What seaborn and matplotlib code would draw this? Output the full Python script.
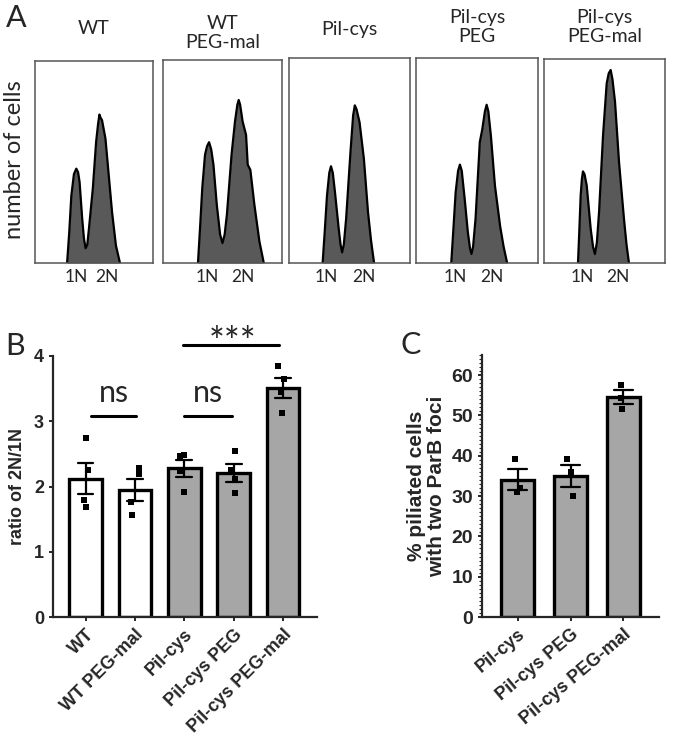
import matplotlib
matplotlib.use('Agg')
from matplotlib import pyplot as plt
from matplotlib.ticker import MultipleLocator
import numpy as np
import pandas as pd
import seaborn as sns

# ---- panel A: DNA content histograms (box-relative units) ----
hist_titles = ['WT', 'WT\nPEG-mal', 'Pil-cys', 'Pil-cys\nPEG', 'Pil-cys\nPEG-mal']
hist_x = [
    [27.2, 29.0, 30.8, 33.0, 35.0, 36.5, 37.8, 40.0, 41.5, 42.9, 44.3, 45.7, 49.0, 51.8, 53.5, 54.6, 55.5, 56.8, 59.7, 62.5, 65.3, 68.6, 72.0],
    [29.4, 31.2, 33.0, 35.3, 37.0, 38.7, 40.5, 42.4, 45.2, 48.0, 50.0, 51.8, 53.7, 57.6, 60.5, 62.5, 63.6, 64.8, 66.9, 69.8, 71.2, 73.4, 76.8, 81.0, 84.7],
    [27.8, 29.6, 31.4, 33.3, 34.7, 36.2, 38.0, 41.1, 42.6, 43.9, 45.3, 47.2, 50.8, 53.0, 54.4, 55.8, 58.3, 61.9, 65.3, 67.8, 70.3],
    [28.9, 30.7, 32.5, 34.5, 36.0, 37.5, 39.9, 42.5, 44.3, 45.5, 46.8, 48.8, 52.3, 54.3, 56.5, 57.9, 59.3, 61.4, 64.7, 68.9, 71.8, 74.7],
    [28.1, 29.2, 30.3, 31.3, 32.2, 33.5, 35.3, 38.6, 40.5, 42.1, 43.7, 45.5, 48.8, 51.8, 53.5, 55.1, 56.6, 58.7, 62.0, 66.1, 68.2, 70.2],
]
hist_y = [
    [0, 15, 33.4, 44, 46.7, 45, 40, 21.9, 12, 7.3, 9, 16.9, 36.8, 60, 69, 73.5, 72, 70.7, 61.6, 43.4, 25.2, 8.6, 0],
    [0, 18, 36.9, 53.3, 57.5, 59.5, 56, 48.4, 28.7, 14, 9.8, 14, 23.8, 53.3, 69.7, 78, 80.3, 78, 69.7, 63.1, 48.4, 45.9, 28.7, 10.7, 0],
    [0, 16, 32.9, 44, 47.2, 44, 34.5, 16.6, 9, 5.2, 9, 21.5, 54.1, 72, 76.9, 75, 68.7, 50.8, 24.8, 11, 0],
    [0, 17, 34.5, 45, 48, 45, 31.3, 15, 7, 4.4, 8, 21.5, 59, 65.1, 74, 77.2, 74, 62, 37.8, 18.2, 8, 0],
    [0, 16, 33.1, 41, 44.9, 43.5, 38, 16.7, 8, 4.4, 10, 24.9, 62.6, 88, 93, 94.6, 90, 79, 49.5, 21.6, 9, 0],
]
ploidy_ticks = [[35, 61], [37, 67], [31, 62], [32, 62], [32, 61]]
ploidy_labels = ['1N', '2N']

# ---- panel B: ratio of 2N/1N ----
ratio_groups = ['WT', 'WT PEG-mal', 'Pil-cys', 'Pil-cys PEG', 'Pil-cys PEG-mal']
ratio_values = [
    [2.74, 2.26, 1.79, 1.69],
    [2.28, 2.19, 1.77, 1.56],
    [2.47, 2.49, 2.23, 1.92],
    [2.55, 2.25, 2.12, 1.90],
    [3.84, 3.64, 3.45, 3.13],
]
ratio_colors = ['white', 'white', '#a6a6a6', '#a6a6a6', '#a6a6a6']

# ---- panel C: % piliated cells with two ParB foci ----
foci_groups = ['Pil-cys', 'Pil-cys PEG', 'Pil-cys PEG-mal']
foci_values = [
    [39.2, 32.0, 30.9],
    [39.2, 35.9, 30.0],
    [57.5, 54.4, 51.7],
]

sns.set_style('ticks')
plt.rcParams['font.family'] = ['Liberation Sans', 'DejaVu Sans']
soft = ['Lato', 'DejaVu Sans']

W, H = 677, 735
fig = plt.figure(figsize=(W / 100, H / 100), dpi=100)


def px_axes(left, top, right, bottom):
    return fig.add_axes([left / W, 1 - bottom / H, (right - left) / W, (bottom - top) / H])


# ---------------- panel A ----------------
box_px = [(35, 61, 153, 263), (163, 60, 282, 263), (289, 58, 410, 263),
          (416, 58, 538, 263), (544, 59, 665, 263)]
title_y = [29, 33, 30, 27, 27]
for i, (l, t, r, b) in enumerate(box_px):
    ax = px_axes(l, t, r, b)
    ax.fill_between(hist_x[i], hist_y[i], color='#595959', lw=0)
    sns.lineplot(x=hist_x[i], y=hist_y[i], color='black', lw=1.6, ax=ax)
    ax.set_xlim(0, 100)
    ax.set_ylim(0, 100)
    ax.set_yticks([])
    ax.set_xticks(ploidy_ticks[i])
    ax.set_xticklabels(ploidy_labels, family=soft, fontsize=12.5)
    ax.tick_params(axis='x', length=0, pad=4)
    for s in ax.spines.values():
        s.set_color('#555555')
        s.set_linewidth(1.1)
    fig.text((l + r) / 2 / W, 1 - title_y[i] / H, hist_titles[i], ha='center', va='center',
             family=soft, fontsize=14, linespacing=1.1)

fig.text(15 / W, 1 - 160 / H, 'number of cells', rotation=90, ha='center', va='center',
         family=soft, fontsize=17)
fig.text(6 / W, 1 - 18 / H, 'A', ha='left', va='center', family=soft, fontsize=22)

# ---------------- panel B ----------------
dfB = pd.DataFrame({
    'group': np.repeat(ratio_groups, [len(v) for v in ratio_values]),
    'ratio': np.concatenate(ratio_values),
})
axB = px_axes(53, 356, 317, 617)
sns.barplot(data=dfB, x='group', y='ratio', hue='group', palette=ratio_colors,
            errorbar='se', capsize=0.32, err_kws={'color': 'black', 'linewidth': 1.6},
            edgecolor='black', linewidth=2.4, width=0.66, legend=False, ax=axB)
np.random.seed(3)
sns.stripplot(data=dfB, x='group', y='ratio', color='black', marker='s', size=4.5,
              jitter=0.1, ax=axB)
axB.set_xlim(-0.66, 4.69)
axB.set_ylim(0, 4)
axB.set_yticks([0, 1, 2, 3, 4])
axB.set_xlabel('')
axB.set_ylabel('ratio of 2N/1N', fontsize=13, fontweight='bold', labelpad=6)
sns.despine(ax=axB)
for s in ['left', 'bottom']:
    axB.spines[s].set_linewidth(1.6)
axB.tick_params(axis='both', width=1.4, length=3)
plt.setp(axB.get_yticklabels(), fontsize=13, fontweight='bold')
plt.setp(axB.get_xticklabels(), fontsize=13, fontweight='bold', rotation=45,
         ha='right', rotation_mode='anchor')

# significance marks
for x0, x1 in [(0.1, 1.03), (2.0, 2.96)]:
    axB.plot([x0, x1], [3.08, 3.08], color='black', lw=2.2, clip_on=False)
    axB.text((x0 + x1) / 2, 3.43, 'ns', ha='center', va='center', family=soft, fontsize=22)
axB.plot([1.98, 3.93], [4.17, 4.17], color='black', lw=2.2, clip_on=False)
axB.text(2.98, 4.18, '***', ha='center', va='center', family=soft, fontsize=27, clip_on=False)
fig.text(5 / W, 1 - 346 / H, 'B', ha='left', va='center', family=soft, fontsize=22)

# ---------------- panel C ----------------
dfC = pd.DataFrame({
    'group': np.repeat(foci_groups, [len(v) for v in foci_values]),
    'pct': np.concatenate(foci_values),
})
axC = px_axes(482, 355, 659, 617)
sns.barplot(data=dfC, x='group', y='pct', color='#a6a6a6',
            errorbar='se', capsize=0.36, err_kws={'color': 'black', 'linewidth': 1.6},
            edgecolor='black', linewidth=2.4, width=0.63, ax=axC)
sns.stripplot(data=dfC, x='group', y='pct', color='black', marker='s', size=4.5,
              jitter=0.1, ax=axC)
axC.set_xlim(-0.67, 2.67)
axC.set_ylim(0, 65)
axC.set_yticks([0, 10, 20, 30, 40, 50, 60])
axC.yaxis.set_minor_locator(MultipleLocator(1))
axC.set_xlabel('')
axC.set_ylabel('% piliated cells\nwith two ParB foci', fontsize=15, fontweight='bold',
               labelpad=4, linespacing=1.05)
sns.despine(ax=axC)
for s in ['left', 'bottom']:
    axC.spines[s].set_linewidth(1.6)
axC.tick_params(axis='both', which='major', width=1.4, length=3)
axC.tick_params(axis='y', which='minor', width=0.8, length=2)
plt.setp(axC.get_yticklabels(), fontsize=14, fontweight='bold')
plt.setp(axC.get_xticklabels(), fontsize=13, fontweight='bold', rotation=40,
         ha='right', rotation_mode='anchor')
fig.text(400 / W, 1 - 345 / H, 'C', ha='left', va='center', family=soft, fontsize=22)

fig.savefig('out.png', dpi=100)
